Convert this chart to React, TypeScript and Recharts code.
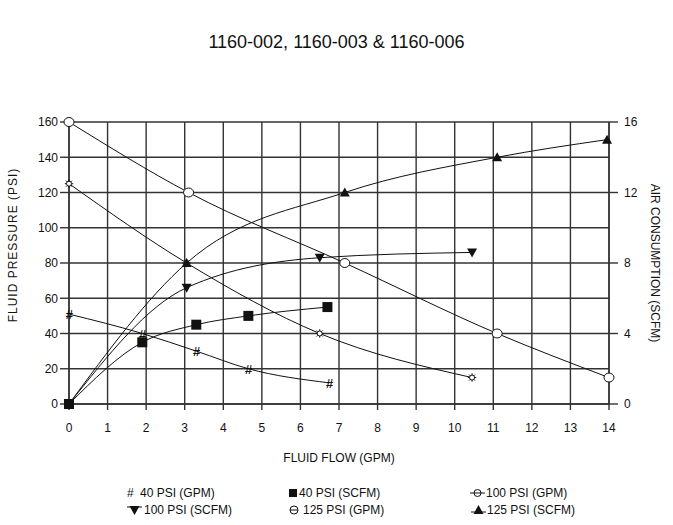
import React from 'react';
import { LineChart, Line, XAxis, YAxis, CartesianGrid } from 'recharts';

const FONT = '"Liberation Sans", Arial, sans-serif';
const INK = '#111';
const GRID = '#333';

const flowTicks = [0, 1, 2, 3, 4, 5, 6, 7, 8, 9, 10, 11, 12, 13, 14];
const pressureTicks = [0, 20, 40, 60, 80, 100, 120, 140, 160];
const airTicks = [0, 4, 8, 12, 16];

// fluid flow (GPM) vs fluid pressure (PSI)
const flow40Gpm = [0, 1.9, 3.3, 4.65, 6.75];
const pressure40Gpm = [51, 40, 30, 20, 12];
const flow100Gpm = [0, 3.05, 6.5, 10.45];
const pressure100Gpm = [125, 80, 40, 15];
const flow125Gpm = [0, 3.1, 7.15, 11.1, 14];
const pressure125Gpm = [160, 120, 80, 40, 15];

// fluid flow (GPM) vs air consumption (SCFM)
const flow40Scfm = [0, 1.9, 3.3, 4.65, 6.7];
const air40Scfm = [0, 3.5, 4.5, 5.0, 5.5];
const flow100Scfm = [0, 3.05, 6.5, 10.45];
const air100Scfm = [0, 6.6, 8.3, 8.6];
const flow125Scfm = [0, 3.05, 7.15, 11.1, 13.95];
const air125Scfm = [0, 8, 12, 14, 15];

const toPoints = (xs: number[], ys: number[]) => xs.map((x, i) => ({ x, y: ys[i] }));

type MarkerKind = 'hash' | 'square' | 'sun' | 'down' | 'circle' | 'up';

const series: { name: string; axis: string; kind: MarkerKind; data: { x: number; y: number }[] }[] = [
  { name: '40 PSI (GPM)', axis: 'left', kind: 'hash', data: toPoints(flow40Gpm, pressure40Gpm) },
  { name: '40 PSI (SCFM)', axis: 'right', kind: 'square', data: toPoints(flow40Scfm, air40Scfm) },
  { name: '100 PSI (GPM)', axis: 'left', kind: 'sun', data: toPoints(flow100Gpm, pressure100Gpm) },
  { name: '100 PSI (SCFM)', axis: 'right', kind: 'down', data: toPoints(flow100Scfm, air100Scfm) },
  { name: '125 PSI (GPM)', axis: 'left', kind: 'circle', data: toPoints(flow125Gpm, pressure125Gpm) },
  { name: '125 PSI (SCFM)', axis: 'right', kind: 'up', data: toPoints(flow125Scfm, air125Scfm) },
];

const Marker = ({ kind, cx, cy }: { kind: MarkerKind; cx: number; cy: number }) => {
  if (cx == null || cy == null) return null;
  switch (kind) {
    case 'hash':
      return (
        <text
          x={cx}
          y={cy}
          dy={5}
          textAnchor="middle"
          fontSize={13}
          fontWeight="bold"
          fontStyle="italic"
          fill={INK}
          fontFamily={FONT}
        >
          #
        </text>
      );
    case 'square':
      return <rect x={cx - 5} y={cy - 5} width={10} height={10} fill={INK} />;
    case 'down':
      return <path d={`M${cx - 5},${cy - 4} L${cx + 5},${cy - 4} L${cx},${cy + 5} Z`} fill={INK} />;
    case 'up':
      return <path d={`M${cx - 5},${cy + 4} L${cx + 5},${cy + 4} L${cx},${cy - 5} Z`} fill={INK} />;
    case 'circle':
      return <ellipse cx={cx} cy={cy} rx={5} ry={4.5} fill="#fff" stroke={INK} strokeWidth={1} />;
    case 'sun': {
      const spikes = [0, 45, 90, 135, 180, 225, 270, 315].map((a) => {
        const r = (a * Math.PI) / 180;
        return (
          <line
            key={a}
            x1={cx + Math.cos(r) * 2.5}
            y1={cy + Math.sin(r) * 2.5}
            x2={cx + Math.cos(r) * 4.2}
            y2={cy + Math.sin(r) * 4.2}
            stroke={INK}
            strokeWidth={1}
          />
        );
      });
      return (
        <g>
          <circle cx={cx} cy={cy} r={2.5} fill="#fff" stroke={INK} strokeWidth={1} />
          {spikes}
        </g>
      );
    }
  }
  return null;
};

const LegendIcon = ({ kind }: { kind: string }) => {
  let body: React.ReactNode = null;
  if (kind === 'hash') {
    body = (
      <text x={4} y={11} fontSize={12} fill={INK} fontFamily={FONT}>
        #
      </text>
    );
  } else if (kind === 'square') {
    body = <rect x={1} y={3} width={8} height={8} fill={INK} />;
  } else if (kind === 'circleLine') {
    body = (
      <g>
        <line x1={0} y1={7} x2={15} y2={7} stroke={INK} strokeWidth={1} />
        <circle cx={7.5} cy={7} r={3.5} fill="#fff" stroke={INK} strokeWidth={1} />
        <line x1={4} y1={7} x2={11} y2={7} stroke={INK} strokeWidth={1} />
      </g>
    );
  } else if (kind === 'downLine') {
    body = (
      <g>
        <line x1={0} y1={4} x2={15} y2={4} stroke={INK} strokeWidth={1} />
        <path d="M2.5,3 L12.5,3 L7.5,12 Z" fill={INK} />
      </g>
    );
  } else if (kind === 'circleBar') {
    body = (
      <g>
        <circle cx={5} cy={7} r={4} fill="#fff" stroke={INK} strokeWidth={1} />
        <line x1={1} y1={7} x2={9} y2={7} stroke={INK} strokeWidth={1} />
      </g>
    );
  } else if (kind === 'upLine') {
    body = (
      <g>
        <line x1={0} y1={9} x2={15} y2={9} stroke={INK} strokeWidth={1} />
        <path d="M2.5,11 L12.5,11 L7.5,2 Z" fill={INK} />
      </g>
    );
  }
  return (
    <svg width={16} height={14} style={{ display: 'block' }}>
      {body}
    </svg>
  );
};

const legendItems = [
  { icon: 'hash', label: '40 PSI (GPM)', left: 123, textLeft: 140, row: 0 },
  { icon: 'square', label: '40 PSI (SCFM)', left: 288, textLeft: 299, row: 0 },
  { icon: 'circleLine', label: '100 PSI (GPM)', left: 470, textLeft: 486, row: 0 },
  { icon: 'downLine', label: '100 PSI (SCFM)', left: 127, textLeft: 144, row: 1 },
  { icon: 'circleBar', label: '125 PSI (GPM)', left: 289, textLeft: 303, row: 1 },
  { icon: 'upLine', label: '125 PSI (SCFM)', left: 471, textLeft: 487, row: 1 },
];
const legendRowCenters = [493, 510];

const tickStyle = { fontSize: 12, fill: INK, fontFamily: FONT };

export default function App() {
  return (
    <div style={{ position: 'absolute', left: 0, top: 0, width: 673, height: 525, background: '#fff', fontFamily: FONT }}>
      <div
        style={{
          position: 'absolute',
          left: 0,
          top: 31,
          width: 673,
          textAlign: 'center',
          fontSize: 18,
          lineHeight: '22px',
          color: INK,
        }}
      >
        1160-002, 1160-003 &amp; 1160-006
      </div>
      <div style={{ position: 'absolute', left: 0, top: 0 }}>
        <LineChart width={673} height={525} margin={{ top: 122, right: 14, bottom: 91, left: 19 }}>
          <CartesianGrid yAxisId="left" stroke={GRID} strokeWidth={1.4} />
          <XAxis
            type="number"
            dataKey="x"
            domain={[0, 14]}
            ticks={flowTicks}
            height={30}
            tickSize={6}
            tickMargin={13}
            tick={tickStyle}
            stroke={GRID}
            axisLine={{ stroke: GRID, strokeWidth: 1.4 }}
            tickLine={{ stroke: GRID, strokeWidth: 1.4 }}
            label={{ value: 'FLUID FLOW (GPM)', position: 'center', dy: 39, fontSize: 12, fill: INK, fontFamily: FONT }}
          />
          <YAxis
            yAxisId="left"
            type="number"
            domain={[0, 160]}
            ticks={pressureTicks}
            width={50}
            tickSize={9}
            tickMargin={2}
            tick={tickStyle}
            axisLine={{ stroke: GRID, strokeWidth: 1.4 }}
            tickLine={{ stroke: GRID, strokeWidth: 1.4 }}
            label={{
              value: 'FLUID PRESSURE (PSI)',
              angle: -90,
              position: 'center',
              dx: -31,
              dy: -18,
              fontSize: 12,
              fill: INK,
              fontFamily: FONT,
              letterSpacing: 1,
            }}
          />
          <YAxis
            yAxisId="right"
            orientation="right"
            type="number"
            domain={[0, 16]}
            ticks={airTicks}
            width={50}
            tickSize={9}
            tickMargin={6}
            tick={tickStyle}
            axisLine={{ stroke: GRID, strokeWidth: 1.4 }}
            tickLine={{ stroke: GRID, strokeWidth: 1.4 }}
            label={{
              value: 'AIR CONSUMPTION (SCFM)',
              angle: 90,
              position: 'center',
              dx: 21,
              fontSize: 12,
              fill: INK,
              fontFamily: FONT,
            }}
          />
          {series.map((s) => (
            <Line
              key={s.name}
              name={s.name}
              data={s.data}
              dataKey="y"
              yAxisId={s.axis}
              type="monotone"
              stroke={INK}
              strokeWidth={1}
              isAnimationActive={false}
              dot={(p: any) => <Marker key={`${s.name}-${p.index}`} kind={s.kind} cx={p.cx} cy={p.cy} />}
              activeDot={false}
            />
          ))}
        </LineChart>
      </div>
      {legendItems.map((it) => (
        <React.Fragment key={it.label}>
          <div style={{ position: 'absolute', left: it.left, top: legendRowCenters[it.row] - 7 }}>
            <LegendIcon kind={it.icon} />
          </div>
          <div
            style={{
              position: 'absolute',
              left: it.textLeft,
              top: legendRowCenters[it.row] - 7,
              fontSize: 12,
              lineHeight: '14px',
              color: INK,
              whiteSpace: 'nowrap',
            }}
          >
            {it.label}
          </div>
        </React.Fragment>
      ))}
    </div>
  );
}
